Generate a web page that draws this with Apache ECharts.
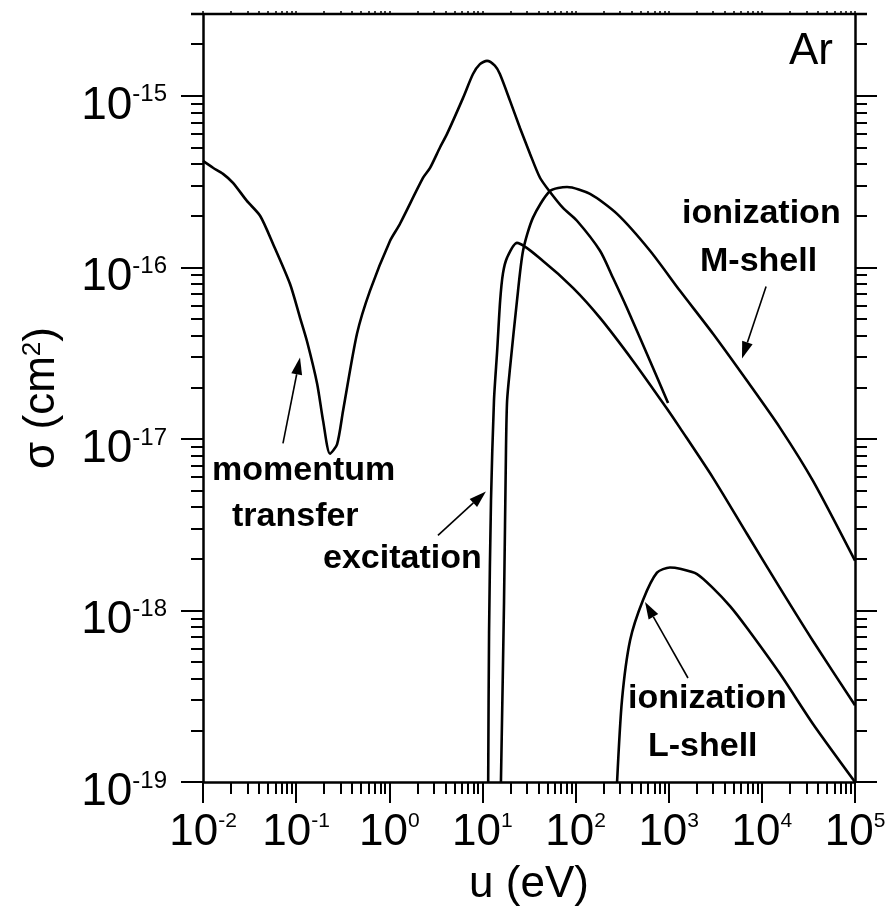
<!DOCTYPE html>
<html><head><meta charset="utf-8">
<script src="https://cdn.jsdelivr.net/npm/echarts@6/dist/echarts.min.js"></script>
<style>html,body{margin:0;padding:0;background:#fff}#c{width:893px;height:915px}</style>
</head><body><div id="c"></div>
<script>
// ---- axis ranges / ticks ----
const xTickExps = [-2, -1, 0, 1, 2, 3, 4, 5];
const yTickExps = [-19, -18, -17, -16, -15];
const xRange = [0.01, 1e5];
const yRange = [1e-19, 3e-15];

// ---- data (u in eV, sigma in cm^2) ----
const momentumU = [0.01, 0.0128, 0.0164, 0.021, 0.0296, 0.041, 0.0565, 0.086, 0.110, 0.131, 0.168, 0.195, 0.231, 0.275, 0.319, 0.45, 0.62, 1.02, 1.30, 2.30, 2.74, 3.5, 4.17, 6.18, 7.92, 9.4, 11.2, 13.6, 15.4, 19.8, 25.3, 32.4, 41.5, 53.2, 73.3, 103.5, 183, 252, 356, 630, 984];
const momentumSigma = [4.18e-16, 3.81e-16, 3.51e-16, 3.11e-16, 2.44e-16, 2.0e-16, 1.37e-16, 8.0e-17, 5.1e-17, 3.7e-17, 2.1e-17, 1.27e-17, 8.2e-18, 9.3e-18, 1.46e-17, 4.1e-17, 7.3e-17, 1.43e-16, 1.79e-16, 3.32e-16, 3.8e-16, 5.0e-16, 6.0e-16, 9.7e-16, 1.34e-15, 1.53e-15, 1.60e-15, 1.50e-15, 1.34e-15, 9.35e-16, 6.5e-16, 4.6e-16, 3.33e-16, 2.75e-16, 2.22e-16, 1.87e-16, 1.25e-16, 8.7e-17, 5.8e-17, 2.85e-17, 1.62e-17];

const excitationU = [11.53, 11.78, 12.36, 13.3, 14.4, 15.5, 16.6, 18.4, 23.5, 44.7, 93.8, 183, 414, 959, 1321, 2990, 6935, 15670, 35400, 1e5];
const excitationSigma = [1e-19, 7.4e-19, 4.39e-18, 1.67e-17, 3.27e-17, 6.4e-17, 9.2e-17, 1.14e-16, 1.39e-16, 1.09e-16, 7.6e-17, 5.08e-17, 2.85e-17, 1.5e-17, 1.16e-17, 5.93e-18, 2.79e-18, 1.35e-18, 6.64e-19, 2.8e-19];

const ionMU = [15.8, 17.06, 17.9, 18.4, 19.8, 23.5, 27.3, 34.9, 53.2, 81, 143, 279, 630, 1321, 2990, 6935, 15670, 35400, 1e5];
const ionMSigma = [1e-19, 1.13e-18, 8.6e-18, 1.67e-17, 2.6e-17, 6.4e-17, 1.25e-16, 1.95e-16, 2.79e-16, 2.94e-16, 2.68e-16, 2.05e-16, 1.25e-16, 7.3e-17, 4.1e-17, 2.18e-17, 1.16e-17, 5.69e-18, 1.95e-18];

const ionLU = [279, 315, 385, 530, 748, 1032, 1321, 2014, 2990, 4550, 6935, 15670, 35400, 1e5];
const ionLSigma = [1e-19, 3.0e-19, 6.7e-19, 1.15e-18, 1.66e-18, 1.78e-18, 1.75e-18, 1.63e-18, 1.35e-18, 1.06e-18, 7.9e-19, 4.27e-19, 2.18e-19, 1.0e-19];

// arrows: [tail u, tail sigma, tip u, tip sigma]
const arrowAnchors = [
  [0.0722, 9.42e-18, 0.110, 2.98e-17],
  [3.33, 2.74e-18, 10.9, 4.94e-18],
  [11100, 7.73e-17, 6120, 2.94e-17],
  [1610, 4.04e-19, 557, 1.12e-18]
];

// ---- build ----
const L = Math.log10;
const toLog = (us, ss) => us.map((u, i) => [L(u), L(ss[i])]);
function minorExps(lo, hi) {
  const out = [];
  for (let n = Math.floor(lo); n < hi; n++) {
    for (let k = 2; k <= 9; k++) {
      const e = n + L(k);
      if (e > lo + 1e-9 && e < hi + 1e-9) out.push(e);
    }
  }
  return out;
}
const xMin = L(xRange[0]), xMax = L(xRange[1]);
const yMin = L(yRange[0]), yMax = L(yRange[1]);
const xMinor = minorExps(xMin, xMax);
const yMinor = minorExps(yMin, yMax);

const FONT = '"Liberation Sans", Arial, sans-serif';
const BLACK = '#000';

const baseX = {type: 'value', min: xMin, max: xMax, splitLine: {show: false}};
const baseY = {type: 'value', min: yMin, max: yMax, splitLine: {show: false}};

const xAxis = [
  Object.assign({}, baseX, {
    position: 'bottom',
    axisLine: {show: true, onZero: false, lineStyle: {color: BLACK, width: 2.5}},
    axisTick: {show: true, inside: false, length: 21, customValues: xTickExps, lineStyle: {color: BLACK, width: 2}},
    axisLabel: {
      customValues: xTickExps, margin: 29, color: BLACK,
      formatter: v => '{b|10}{s|' + Math.round(v) + '}',
      rich: {
        b: {fontFamily: FONT, fontSize: 44, lineHeight: 44, color: BLACK},
        s: {fontFamily: FONT, fontSize: 21, lineHeight: 17, verticalAlign: 'top', color: BLACK}
      }
    },
    name: 'u (eV)', nameLocation: 'middle', nameGap: 81,
    nameTextStyle: {fontFamily: FONT, fontSize: 44, color: BLACK}
  }),
  Object.assign({}, baseX, {
    position: 'bottom',
    axisLine: {show: false, onZero: false},
    axisTick: {show: true, inside: false, length: 12, customValues: xMinor, lineStyle: {color: BLACK, width: 2}},
    axisLabel: {show: false}
  }),
  Object.assign({}, baseX, {
    position: 'top',
    axisLine: {show: false, onZero: false},
    axisTick: {show: true, inside: false, length: 3, customValues: xMinor.concat(xTickExps), lineStyle: {color: BLACK, width: 1.5}},
    axisLabel: {show: false}
  })
];

const yAxis = [
  Object.assign({}, baseY, {
    position: 'left',
    axisLine: {show: true, onZero: false, lineStyle: {color: BLACK, width: 2.5}},
    axisTick: {show: true, inside: false, length: 22, customValues: yTickExps, lineStyle: {color: BLACK, width: 2}},
    axisLabel: {
      customValues: yTickExps, margin: 36, color: BLACK, padding: [20, 0, 0, 0],
      formatter: v => '{b|10}{s|' + Math.round(v) + '}',
      rich: {
        b: {fontFamily: FONT, fontSize: 46, lineHeight: 46, color: BLACK},
        s: {fontFamily: FONT, fontSize: 24, lineHeight: 6, verticalAlign: 'top', color: BLACK}
      }
    },
    name: '{a|σ (cm}{s|2}{a|)}', nameLocation: 'middle', nameGap: 139, nameRotate: 90,
    nameTextStyle: {
      color: BLACK,
      rich: {
        a: {fontFamily: FONT, fontSize: 44, lineHeight: 44, color: BLACK},
        s: {fontFamily: FONT, fontSize: 26, lineHeight: 4, verticalAlign: 'top', color: BLACK}
      }
    }
  }),
  Object.assign({}, baseY, {
    position: 'left',
    axisLine: {show: false, onZero: false},
    axisTick: {show: true, inside: false, length: 12, customValues: yMinor, lineStyle: {color: BLACK, width: 2}},
    axisLabel: {show: false}
  }),
  Object.assign({}, baseY, {
    position: 'right',
    axisLine: {show: true, onZero: false, lineStyle: {color: BLACK, width: 2.5}},
    axisTick: {show: true, inside: false, length: 22, customValues: yTickExps, lineStyle: {color: BLACK, width: 2}},
    axisLabel: {show: false}
  }),
  Object.assign({}, baseY, {
    position: 'right',
    axisLine: {show: false, onZero: false},
    axisTick: {show: true, inside: false, length: 12, customValues: yMinor, lineStyle: {color: BLACK, width: 2}},
    axisLabel: {show: false}
  })
];

function curve(name, us, ss) {
  return {
    name, type: 'line', xAxisIndex: 0, yAxisIndex: 0,
    data: toLog(us, ss), showSymbol: false, smooth: 0.25, clip: true,
    lineStyle: {color: BLACK, width: 2.6}, silent: true
  };
}

const series = [
  curve('momentum transfer', momentumU, momentumSigma),
  curve('excitation', excitationU, excitationSigma),
  curve('ionization M-shell', ionMU, ionMSigma),
  curve('ionization L-shell', ionLU, ionLSigma),
  {
    type: 'custom', name: 'arrows', xAxisIndex: 0, yAxisIndex: 0, silent: true, clip: false,
    data: arrowAnchors.map(a => [L(a[0]), L(a[1]), L(a[2]), L(a[3])]),
    renderItem: (params, api) => {
      const t = api.coord([api.value(0), api.value(1)]);
      const h = api.coord([api.value(2), api.value(3)]);
      const dx = h[0] - t[0], dy = h[1] - t[1];
      const len = Math.hypot(dx, dy);
      const ux = dx / len, uy = dy / len;
      const headLen = 17, headW = 5.5;
      const b = [h[0] - ux * headLen, h[1] - uy * headLen];
      const p1 = [b[0] - uy * headW, b[1] + ux * headW];
      const p2 = [b[0] + uy * headW, b[1] - ux * headW];
      return {
        type: 'group',
        children: [
          {type: 'line', shape: {x1: t[0], y1: t[1], x2: b[0], y2: b[1]}, style: {stroke: BLACK, lineWidth: 1.6}},
          {type: 'polygon', shape: {points: [h, p1, p2]}, style: {fill: BLACK}}
        ]
      };
    }
  },
  {
    type: 'custom', name: 'frameTop', xAxisIndex: 0, yAxisIndex: 0, silent: true, clip: false,
    data: [[xMin, yMax, xMax, yMax]],
    renderItem: (params, api) => {
      const a = api.coord([api.value(0), api.value(1)]);
      const b = api.coord([api.value(2), api.value(3)]);
      return {type: 'line', shape: {x1: a[0] - 12, y1: a[1], x2: b[0] + 12, y2: b[1]}, style: {stroke: BLACK, lineWidth: 2.5}};
    }
  }
];

function label(text, x, baseline, size, weight, align) {
  return {
    type: 'text', x: x, y: baseline - 0.3465 * size, silent: true,
    style: {text, fontFamily: FONT, fontSize: size, fontWeight: weight, fill: BLACK, align: align || 'left', verticalAlign: 'middle'}
  };
}

const option = {
  animation: false,
  backgroundColor: '#fff',
  grid: {left: 203, right: 38, top: 14, bottom: 133},
  xAxis, yAxis, series,
  graphic: [
    label('momentum', 212, 482, 34, 'bold'),
    label('transfer', 232, 528, 34, 'bold'),
    label('excitation', 323, 570, 34, 'bold'),
    label('ionization', 682, 225, 34, 'bold'),
    label('M-shell', 700, 273, 34, 'bold'),
    label('ionization', 628, 710, 34, 'bold'),
    label('L-shell', 648, 758, 34, 'bold'),
    label('Ar', 833, 67, 44, 'normal', 'right')
  ]
};

const chart = echarts.init(document.getElementById('c'), null, {renderer: 'canvas'});
chart.setOption(option);
</script>
</body></html>
